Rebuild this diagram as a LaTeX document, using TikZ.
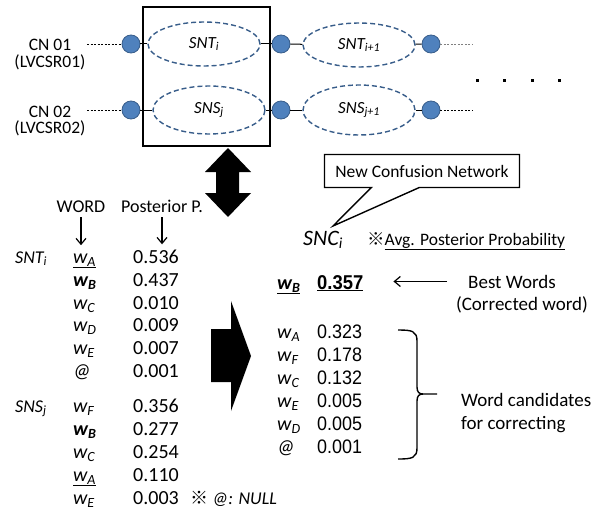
\documentclass[tikz,border=0pt]{standalone}
\usepackage{fontspec}
\setmainfont{Carlito}
\newfontfamily\numfont[FakeStretch=0.92]{Liberation Sans}
\newfontfamily\cjk{Noto Sans CJK JP}
\usepackage{tikz}
\usetikzlibrary{shapes.geometric,shapes.callouts,arrows.meta,positioning,calc}
\definecolor{cnblue}{HTML}{4F81BD}
\definecolor{cnedge}{HTML}{385D8A}
\definecolor{leadgray}{HTML}{808080}

\begin{document}
\begin{tikzpicture}[x=1pt,y=-1pt,
    netdot/.style={circle, fill=cnblue, draw=cnedge, line width=0.8pt, minimum size=18pt, inner sep=0pt},
    slot/.style={ellipse, draw=cnedge, line width=1.4pt, dash pattern=on 5pt off 3pt,
      minimum width=112pt, minimum height=44pt, inner sep=0pt, font=\fontsize{17}{19}\selectfont\itshape},
    lead/.style={dashed, dash pattern=on 2pt off 1.5pt, line width=0.6pt},
    link/.style={line width=1pt},
    lbl/.style={font=\fontsize{17.5}{20}\selectfont, inner sep=0pt},
    wd/.style={font=\fontsize{20}{22}\selectfont\itshape, inner sep=0pt, anchor=base west},
    pp/.style={font=\fontsize{20}{22}\selectfont, inner sep=0pt, anchor=base west},
    ap/.style={font=\fontsize{19.5}{22}\selectfont\numfont, inner sep=0pt, anchor=base west},
    down/.style={line width=1.2pt, -{Straight Barb[length=6pt,width=10pt]}},
  ]
  \useasboundingbox (0,0) rectangle (609,511);

  % Confusion networks
  \draw[line width=1.5pt] (143,7) rectangle (270,146);
  \node[slot] (snt) at (204,44) {SNT\textsubscript{i}};
  \node[slot, minimum height=48pt] (sns) at (209,110) {SNS\textsubscript{j}};
  \node[slot] (sntn) at (359,45) {SNT\textsubscript{i+1}};
  \node[slot, minimum height=50pt] (snsn) at (359,110) {SNS\textsubscript{j+1}};
  \foreach \r/\y in {1/44, 2/110} {
    \node[netdot] (d\r a) at (131,\y) {};
    \node[netdot] (d\r b) at (281,\y) {};
    \node[netdot] (d\r c) at (431,\y) {};
    \coordinate (in\r) at (87,\y);
    \coordinate (out\r) at (472,\y);
    \draw[lead] (in\r) -- (d\r a);
  }
  \draw[lead, leadgray] (d1c) -- (out1);
  \draw[lead] (d2c) -- (out2);
  \draw[link] (d1a) -- (snt);
  \draw[link] (snt) -- (d1b);
  \draw[link] (d1b) -- (sntn);
  \draw[link] (sntn) -- (d1c);
  \draw[link] (d2a) -- (sns);
  \draw[link] (sns) -- (d2b);
  \draw[link] (d2b) -- (snsn);
  \draw[link] (snsn) -- (d2c);
  \foreach \x in {477,504,532,559}
    \fill (\x-1.5,79) rectangle ++(3,3);
  \node[lbl, anchor=base] (cn1) at (50,50) {CN 01};
  \node[lbl, anchor=base] (lv1) at (50,67) {(LVCSR01)};
  \node[lbl, anchor=base] (cn2) at (50,117) {CN 02};
  \node[lbl, anchor=base] (lv2) at (50,133) {(LVCSR02)};

  % Big arrows
  \fill (228,148) -- (251,172) -- (239,172) -- (239,193) -- (251,193) -- (228,217)
    -- (205,193) -- (216,193) -- (216,172) -- (205,172) -- cycle;
  \fill (211,329) -- (231,329) -- (231,301) -- (251,356) -- (231,411) -- (231,382)
    -- (211,382) -- cycle;

  % Word / posterior table
  \node[lbl, font=\fontsize{18}{20}\selectfont, anchor=base] (word) at (81,212) {WORD};
  \node[lbl, font=\fontsize{18}{20}\selectfont, anchor=base] (post) at (162,212) {Posterior P.};
  \node[wd, font=\fontsize{18}{20}\selectfont\itshape] (lsnt) at (15,263) {SNT\textsubscript{i}};
  \node[wd, font=\fontsize{18}{20}\selectfont\itshape] (lsns) at (15,412) {SNS\textsubscript{j}};
  \foreach \n/\y/\w/\p in {
      t1/263/{\underline{w\textsubscript{A}}}/0.536,
      t2/286/{\textbf{w\textsubscript{B}}}/0.437,
      t3/309/{w\textsubscript{C}}/0.010,
      t4/331/{w\textsubscript{D}}/0.009,
      t5/354/{w\textsubscript{E}}/0.007,
      t6/377/{@}/0.001,
      s1/412/{w\textsubscript{F}}/0.356,
      s2/435/{\textbf{w\textsubscript{B}}}/0.277,
      s3/458/{w\textsubscript{C}}/0.254,
      s4/481/{\underline{w\textsubscript{A}}}/0.110,
      s5/504/{w\textsubscript{E}}/0.003} {
    \node[wd] (w\n) at (73,\y) {\w};
    \node[pp] (p\n) at (133,\y) {\p};
  }
  \draw[down, shorten <=5pt, shorten >=8pt] (word.south) -- (word.south |- wt1.north);
  \draw[down, shorten <=5pt, shorten >=5pt] (post.south) -- (post.south |- pt1.north);
  \node[wd, font=\fontsize{18}{20}\selectfont\itshape] (nullnote) at (190,504) {{\upshape\cjk ※} @: NULL};

  % New confusion network
  \node[wd, font=\fontsize{22}{24}\selectfont\itshape, anchor=base] (snc) at (323,245) {SNC\textsubscript{i}};
  \coordinate (tip) at (333,226);
  \node[lbl, draw, line width=1.4pt, rectangle callout, callout absolute pointer={(tip)},
    callout pointer width=48pt, minimum width=195pt, minimum height=33pt] (newcn) at (422,171)
    {New Confusion Network};
  \node[lbl, anchor=base west] (avg) at (367,245) {{\cjk ※}\underline{Avg. Posterior Probability}};
  \node[wd, font=\fontsize{20}{22}\selectfont\bfseries\itshape] (rwb) at (277,289) {\underline{w\textsubscript{B}}};
  \node[ap, font=\fontsize{20}{22}\selectfont\numfont\bfseries] (rpb) at (317,289) {\underline{0.357}};
  \foreach \n/\y/\w/\p in {
      1/338/{w\textsubscript{A}}/0.323,
      2/361/{w\textsubscript{F}}/0.178,
      3/384/{w\textsubscript{C}}/0.132,
      4/407/{w\textsubscript{E}}/0.005,
      5/430/{w\textsubscript{D}}/0.005,
      6/453/{@}/0.001} {
    \node[wd] (rw\n) at (277,\y) {\w};
    \node[ap] (rp\n) at (317,\y) {\p};
  }
  \node[lbl, font=\fontsize{19}{21}\selectfont, anchor=base] (best) at (512,288) {Best Words};
  \node[lbl, font=\fontsize{19}{21}\selectfont, anchor=base] (corr) at (522,310) {(Corrected word)};
  \draw[line width=1.2pt, -{Straight Barb[length=6pt,width=10pt]}, shorten <=21pt, shorten >=30pt]
    (best.west) -- (best.west -| rpb.east);

  % Candidates brace
  \coordinate (brt) at (398,330);
  \coordinate (brb) at (398,459);
  \coordinate (brm) at (437,394);
  \draw[line width=1.4pt] (brt) .. controls (412,330) and (417,331) .. (417,341) -- (417,387)
    .. controls (417,392) and (419,394) .. (423,394) -- (brm);
  \draw[line width=1.4pt] (brb) .. controls (412,459) and (417,458) .. (417,448) -- (417,401)
    .. controls (417,396) and (419,394) .. (423,394);
  \node[lbl, font=\fontsize{19}{21}\selectfont, anchor=base west] (cand1) at (461,406) {Word candidates};
  \node[lbl, font=\fontsize{19}{21}\selectfont, anchor=base west] (cand2) at (461,429) {for correcting};
\end{tikzpicture}
\end{document}
